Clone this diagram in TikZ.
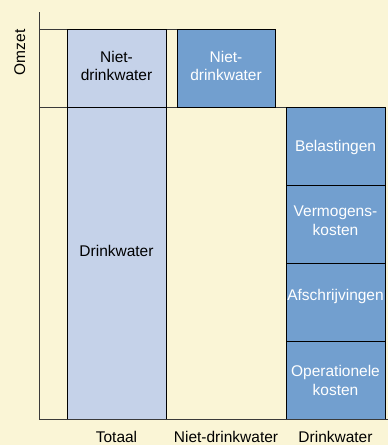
\documentclass[tikz,border=0pt]{standalone}
\usepackage{fontspec}
\setmainfont{Liberation Sans}
\definecolor{bgc}{HTML}{FAF5D6}
\definecolor{lightb}{HTML}{C5D2E9}
\definecolor{darkb}{HTML}{729FCF}
\definecolor{gridc}{HTML}{3A3A3A}
\begin{document}
\begin{tikzpicture}[x=1pt,y=-1pt,
  txt/.style={font=\fontsize{15.5}{18.6}\selectfont, align=center, inner sep=0pt},
  lbl/.style={font=\fontsize{15.5}{18.6}\selectfont, inner sep=0pt},
  lbox/.style={draw=black, line width=0.9pt, fill=lightb},
  dbox/.style={draw=black, line width=0.9pt, fill=darkb},
  wtxt/.style={txt, text=white},
  gridl/.style={draw=gridc, line width=0.8pt},
  axisl/.style={draw=gridc, line width=1pt}]
\fill[bgc] (0,0) rectangle (388,445);
\useasboundingbox (0,0) rectangle (388,445);
% grid lines
\coordinate (g1a) at (39.5,29);
\coordinate (g1b) at (177,29);
\coordinate (g2a) at (39.5,107);
\coordinate (g2b) at (286,107);
\draw[gridl] (g1a) -- (g1b);
\draw[gridl] (g2a) -- (g2b);
% boxes
\path[lbox] (67.5,29) rectangle (166,107);
\path[lbox] (67.5,107) rectangle (166,419.5);
\path[dbox] (177,29) rectangle (275.5,107);
\path[dbox] (286.5,107) rectangle (385,185);
\path[dbox] (286.5,185) rectangle (385,263.5);
\path[dbox] (286.5,263.5) rectangle (385,341.5);
\path[dbox] (286.5,341.5) rectangle (385,419.5);
% axes
\coordinate (ytop) at (39.5,12);
\coordinate (orig) at (39.5,419.5);
\coordinate (xend) at (388,419.5);
\draw[axisl] (ytop) -- (orig) -- (xend);
% texts
\node[txt] (t1) at (116.5,66) {Niet-\\drinkwater};
\node[txt] (t2) at (116.5,250.5) {Drinkwater};
\node[wtxt] (t3) at (226,66) {Niet-\\drinkwater};
\node[wtxt] (t4) at (335.5,147) {Belastingen};
\node[wtxt] (t5) at (335.5,221) {Vermogens-\\kosten};
\node[wtxt] (t6) at (335.5,296) {Afschrijvingen};
\node[wtxt] (t7) at (335.5,380.5) {Operationele\\kosten};
\node[lbl, anchor=base] (l1) at (116.5,442.3) {Totaal};
\node[lbl, anchor=base] (l2) at (226,442.3) {Niet-drinkwater};
\node[lbl, anchor=base] (l3) at (335.5,442.3) {Drinkwater};
\node[lbl, anchor=base, rotate=90] (l4) at (25,52.5) {Omzet};
\end{tikzpicture}
\end{document}
